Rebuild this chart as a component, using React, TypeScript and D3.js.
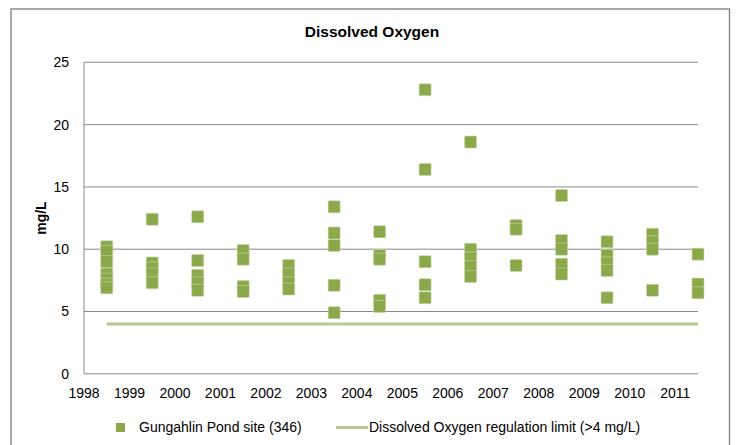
import React from 'react';
import * as d3 from 'd3';

const years = [1998, 1999, 2000, 2001, 2002, 2003, 2004, 2005, 2006, 2007, 2008, 2009, 2010, 2011];
const samples: number[][] = [
  [10.2, 9.8, 9.0, 8.0, 7.6, 7.2, 6.9],
  [12.4, 8.9, 8.5, 8.0, 7.3],
  [12.6, 9.1, 7.9, 7.3, 6.7],
  [9.9, 9.2, 7.0, 6.6],
  [8.7, 8.0, 7.3, 6.8],
  [13.4, 11.3, 10.3, 7.1, 4.9],
  [11.4, 9.5, 9.2, 5.9, 5.4],
  [22.8, 16.4, 9.0, 7.15, 6.1],
  [18.6, 10.0, 9.3, 8.6, 7.8],
  [11.9, 11.6, 8.7],
  [14.3, 10.7, 10.0, 8.8, 8.0],
  [10.6, 9.5, 8.9, 8.3, 6.1],
  [11.2, 10.6, 10.0, 6.7],
  [9.6, 7.2, 6.5],
];
const yTicks = [0, 5, 10, 15, 20, 25];
const limitValue = 4;
const seriesName = 'Gungahlin Pond site (346)';
const limitName = 'Dissolved Oxygen regulation limit (>4 mg/L)';

const W = 737;
const H = 445;
const font = '"Liberation Sans", Arial, sans-serif';
const markerFill = '#8BA84B';
const limitColor = '#B4CA8E';
const gridColor = '#8A8A8A';

export default function App() {
  // plot area in pixels
  const left = 84, right = 698, top = 62.3, bottom = 373.8;

  const x = d3.scaleLinear().domain([1998, 2011.5]).range([left, right]);
  const y = d3.scaleLinear().domain([0, 25]).range([bottom, top]);

  // samples sit mid-year in each year
  const points = years.flatMap((yr, i) => samples[i].map(v => ({ t: yr + 0.5, v })));
  const limitLine = d3.line<number>()
    .x(t => x(t))
    .y(() => y(limitValue))([years[0] + 0.5, years[years.length - 1] + 0.5]);

  const ms = 12; // marker size

  return (
    <div style={{ position: 'fixed', left: 0, top: 0 }}>
      <svg width={W} height={H} style={{ display: 'block', background: '#fff' }} fontFamily={font}>
        {/* chart border */}
        <rect x={11} y={9} width={718.5} height={460} fill="#fff" stroke="#8C8C8C" strokeWidth={1.5} />

        <text x={372} y={37} textAnchor="middle" fontSize={15.5} fontWeight="bold" fill="#000">Dissolved Oxygen</text>

        {/* gridlines */}
        {yTicks.map(t => (
          <g key={t}>
            <line x1={left} x2={right} y1={y(t)} y2={y(t)} stroke={gridColor} strokeWidth={1} />
            <text x={69} y={y(t)} dy="0.35em" textAnchor="end" fontSize={14} fill="#000">{t}</text>
          </g>
        ))}
        <line x1={left} x2={left} y1={top} y2={bottom} stroke={gridColor} strokeWidth={1} />

        {years.map(yr => (
          <text key={yr} x={x(yr)} y={398} textAnchor="middle" fontSize={14} fill="#000">{yr}</text>
        ))}

        <text transform={`translate(46,${(top + bottom) / 2}) rotate(-90)`} textAnchor="middle" fontSize={14} fontWeight="bold" fill="#000">mg/L</text>

        {/* regulation limit */}
        <path d={limitLine ?? ''} stroke={limitColor} strokeWidth={3} fill="none" />

        {/* samples */}
        {points.map((p, i) => (
          <rect key={i} x={x(p.t) - ms / 2} y={y(p.v) - ms / 2} width={ms} height={ms} rx={1}
            fill={markerFill} stroke="#C9D8AC" strokeWidth={0.6} />
        ))}

        {/* legend */}
        <rect x={116} y={423} width={9} height={9} fill={markerFill} />
        <text x={139} y={427.5} dy="0.35em" fontSize={14} fill="#000">{seriesName}</text>
        <line x1={336} x2={368} y1={427.5} y2={427.5} stroke={limitColor} strokeWidth={3} />
        <text x={369} y={427.5} dy="0.35em" fontSize={14} fill="#000">{limitName}</text>
      </svg>
    </div>
  );
}
